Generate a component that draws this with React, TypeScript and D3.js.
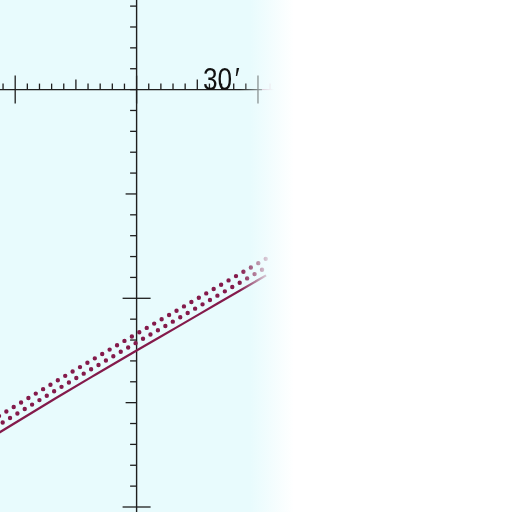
import * as d3 from "d3";

// x in arc-minutes, y in tick units (0 at the horizontal axis)
const xMajor = [-30, 0, 30];
const yMajor = [0, -10, -20];

const solidX = [-34, -20, -10, 0, 10, 20, 32];
const solidY = [-16.44, -14.79, -13.64, -12.5, -11.38, -10.25, -8.9];
const dotLowY = [-16.06, -14.41, -13.26, -12.12, -11.0, -9.87, -8.52];
const dotHighY = [-15.64, -13.99, -12.84, -11.7, -10.58, -9.45, -8.1];

const xLabel = "30";
const xUnit = "′";

const W = 512;
const H = 512;
const ink = "#1e1e1e";
const wine = "#841a4b";

export default function App() {
    const x = d3.scaleLinear().domain([-30, 30]).range([15.2, 258]);
    const y = d3.scaleLinear().domain([0, -20]).range([89.6, 507]);
    const x0 = x(0);
    const y0 = y(0);

    const xTicks = d3.range(-36, 40, 3);
    const yTicks = d3.range(5, -25, -1);

    const line = d3
        .line<number>()
        .x((_, i) => x(solidX[i]))
        .y((v) => y(v))
        .curve(d3.curveMonotoneX);

    return (
        <svg width={W} height={H} style={{ position: "absolute", left: 0, top: 0 }}>
            <defs>
                <linearGradient id="bg" gradientUnits="userSpaceOnUse" x1="250" x2="294" y1="0" y2="0">
                    <stop offset="0" stopColor="#e8fbfd" />
                    <stop offset="1" stopColor="#ffffff" />
                </linearGradient>
                <linearGradient id="fadeGrad" gradientUnits="userSpaceOnUse" x1="240" x2="274" y1="0" y2="0">
                    <stop offset="0" stopColor="#ffffff" />
                    <stop offset="1" stopColor="#000000" />
                </linearGradient>
                <mask id="fade" maskUnits="userSpaceOnUse" x="0" y="0" width={W} height={H}>
                    <rect x={0} y={0} width={W} height={H} fill="url(#fadeGrad)" />
                </mask>
            </defs>
            <rect x={0} y={0} width={W} height={H} fill="#ffffff" />
            <rect x={0} y={0} width={300} height={H} fill="url(#bg)" />

            <g mask="url(#fade)">
                {/* horizontal axis */}
                <line x1={0} x2={262} y1={y0} y2={y0} stroke={ink} strokeWidth={1.3} />
                <line x1={262} x2={280} y1={y0} y2={y0} stroke="#c47a9a" strokeWidth={1} />
                {xTicks.map((t) => {
                    const major = xMajor.includes(t);
                    const mid = !major && t % 15 === 0;
                    return (
                        <line
                            key={"x" + t}
                            x1={x(t)}
                            x2={x(t)}
                            y1={major ? y0 + 14 : y0}
                            y2={major ? y0 - 14 : mid ? y0 - 10 : y0 - 6}
                            stroke={t > 30 ? "#c47a9a" : ink}
                            strokeWidth={1.3}
                        />
                    );
                })}

                {/* vertical axis */}
                <line x1={x0} x2={x0} y1={0} y2={H} stroke={ink} strokeWidth={1.4} />
                {yTicks.map((t) => {
                    const major = yMajor.includes(t) && t !== 0;
                    const mid = !major && t % 5 === 0 && t !== 0;
                    return (
                        <line
                            key={"y" + t}
                            x1={major ? x0 - 14 : mid ? x0 - 11 : x0 - 6.5}
                            x2={major ? x0 + 14 : x0}
                            y1={y(t)}
                            y2={y(t)}
                            stroke={ink}
                            strokeWidth={1.3}
                        />
                    );
                })}

                <text
                    transform="translate(203,89.5) scale(0.82,1)"
                    fontFamily="'Liberation Sans', Arial, sans-serif"
                    fontSize={32}
                    fill="#111"
                >
                    {xLabel}
                    <tspan dx={3}>{xUnit}</tspan>
                </text>

                <path
                    d={line(dotHighY) ?? ""}
                    fill="none"
                    stroke={wine}
                    strokeWidth={4.4}
                    strokeLinecap="round"
                    strokeDasharray="0 8.6"
                />
                <path
                    d={line(dotLowY) ?? ""}
                    fill="none"
                    stroke={wine}
                    strokeWidth={4.4}
                    strokeLinecap="round"
                    strokeDasharray="0 8.6"
                    strokeDashoffset={4.3}
                />
                <path d={line(solidY) ?? ""} fill="none" stroke={wine} strokeWidth={2.2} />
            </g>
        </svg>
    );
}
